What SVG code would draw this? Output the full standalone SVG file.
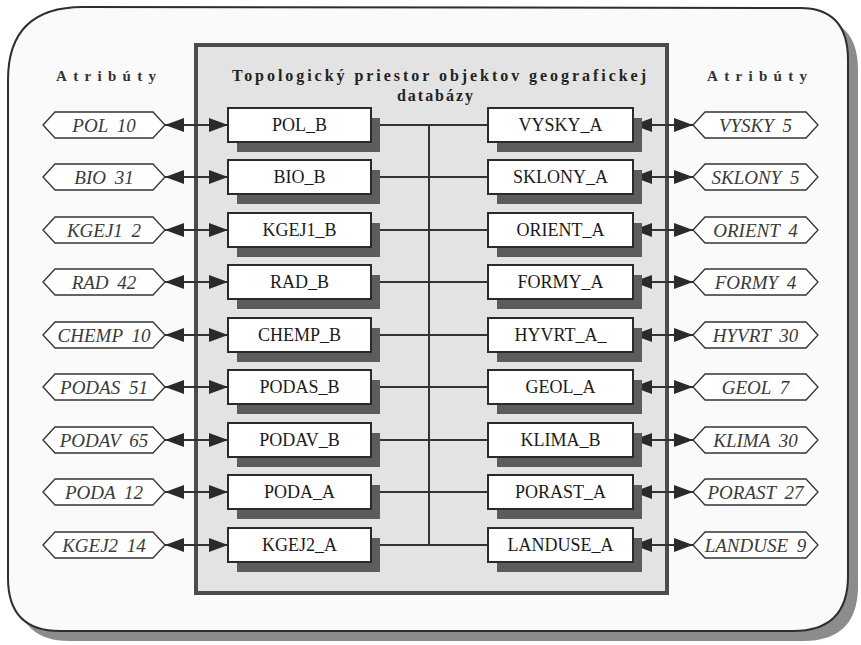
<svg xmlns="http://www.w3.org/2000/svg" width="861" height="645" viewBox="0 0 861 645">
<style>
.frame{fill:#fafafa;stroke:#2e2e2e;stroke-width:2}
.fshadow{fill:#8c8c8c}
.panel{fill:#e3e3e3;stroke:#4c4c4c;stroke-width:4}
.box{fill:#ffffff;stroke:#2a2a2a;stroke-width:2}
.bsh{fill:#5c5c5c}
.hex{fill:#ffffff;stroke:#333;stroke-width:1.3}
.bt{font-family:"Liberation Serif",serif;font-size:18px;fill:#1a1a1a;text-anchor:middle}
.ht{font-family:"Liberation Serif",serif;font-style:italic;font-weight:normal;font-size:19px;fill:#3a3a3a;text-anchor:middle;word-spacing:4px}
.ttl{font-family:"Liberation Serif",serif;font-weight:bold;font-size:16px;fill:#222;text-anchor:middle}
.att{font-family:"Liberation Serif",serif;font-weight:bold;font-size:15px;fill:#333;text-anchor:middle}
.ln{stroke:#333;stroke-width:2;fill:none}
.ar{stroke:#333;stroke-width:2;fill:none;marker-start:url(#aL);marker-end:url(#aR)}
</style>
<defs>
<marker id="aR" markerUnits="userSpaceOnUse" markerWidth="20" markerHeight="16" refX="19" refY="8" orient="0"><path d="M0,1 L19,8 L0,15 z" fill="#2a2a2a"/></marker>
<marker id="aL" markerUnits="userSpaceOnUse" markerWidth="20" markerHeight="16" refX="1" refY="8" orient="0"><path d="M20,1 L1,8 L20,15 z" fill="#2a2a2a"/></marker>
</defs>
<rect width="861" height="645" fill="#ffffff"/>
<g id="frame">
<path class="fshadow" d="M17,90 Q17,17 92,17 L809,18 Q858,18 858,70 L858,586 Q858,641 803,641 L70,641 Q17,641 17,588 Z"/>
<path class="frame" d="M8,80 Q8,7 83,7 L800,8 Q848,8 848,60 L848,576 Q848,631 793,631 L60,631 Q8,631 8,578 Z"/>
</g>
<g id="panel">
<rect class="panel" x="196" y="45" width="471" height="548"/>
<text class="ttl" x="439" y="81" textLength="414" lengthAdjust="spacing">Topologický priestor objektov geografickej</text>
<text class="ttl" x="435" y="101" textLength="76" lengthAdjust="spacing">databázy</text>
</g>
<text class="att" x="106" y="81" textLength="100" lengthAdjust="spacing">Atribúty</text>
<text class="att" x="757" y="81" textLength="100" lengthAdjust="spacing">Atribúty</text>
<g id="connectors">
<path class="ln" d="M429,125 V545"/>
<path class="ln" d="M371,125 H488 M371,177 H488 M371,230 H488 M371,282 H488 M371,335 H488 M371,387 H488 M371,440 H488 M371,492 H488 M371,545 H488"/>
<path class="ar" d="M165,125 H228"/><path class="ar" d="M165,177 H228"/><path class="ar" d="M165,230 H228"/>
<path class="ar" d="M165,282 H228"/><path class="ar" d="M165,335 H228"/><path class="ar" d="M165,387 H228"/>
<path class="ar" d="M165,440 H228"/><path class="ar" d="M165,492 H228"/><path class="ar" d="M165,545 H228"/>
<path class="ar" d="M633,125 H693"/><path class="ar" d="M633,177 H693"/><path class="ar" d="M633,230 H693"/>
<path class="ar" d="M633,282 H693"/><path class="ar" d="M633,335 H693"/><path class="ar" d="M633,387 H693"/>
<path class="ar" d="M633,440 H693"/><path class="ar" d="M633,492 H693"/><path class="ar" d="M633,545 H693"/>
</g>
<g id="n-POL_B"><rect class="bsh" x="237" y="118" width="143" height="34"/><rect class="box" x="228" y="108" width="143" height="34"/><text class="bt" x="299.5" y="131">POL_B</text></g>
<g id="n-BIO_B"><rect class="bsh" x="237" y="170" width="143" height="34"/><rect class="box" x="228" y="160" width="143" height="34"/><text class="bt" x="299.5" y="183">BIO_B</text></g>
<g id="n-KGEJ1_B"><rect class="bsh" x="237" y="223" width="143" height="34"/><rect class="box" x="228" y="213" width="143" height="34"/><text class="bt" x="299.5" y="236">KGEJ1_B</text></g>
<g id="n-RAD_B"><rect class="bsh" x="237" y="275" width="143" height="34"/><rect class="box" x="228" y="265" width="143" height="34"/><text class="bt" x="299.5" y="288">RAD_B</text></g>
<g id="n-CHEMP_B"><rect class="bsh" x="237" y="328" width="143" height="34"/><rect class="box" x="228" y="318" width="143" height="34"/><text class="bt" x="299.5" y="341">CHEMP_B</text></g>
<g id="n-PODAS_B"><rect class="bsh" x="237" y="380" width="143" height="34"/><rect class="box" x="228" y="370" width="143" height="34"/><text class="bt" x="299.5" y="393">PODAS_B</text></g>
<g id="n-PODAV_B"><rect class="bsh" x="237" y="433" width="143" height="34"/><rect class="box" x="228" y="423" width="143" height="34"/><text class="bt" x="299.5" y="446">PODAV_B</text></g>
<g id="n-PODA_A"><rect class="bsh" x="237" y="485" width="143" height="34"/><rect class="box" x="228" y="475" width="143" height="34"/><text class="bt" x="299.5" y="498">PODA_A</text></g>
<g id="n-KGEJ2_A"><rect class="bsh" x="237" y="538" width="143" height="34"/><rect class="box" x="228" y="528" width="143" height="34"/><text class="bt" x="299.5" y="551">KGEJ2_A</text></g>
<g id="n-VYSKY_A"><rect class="bsh" x="497" y="118" width="145" height="34"/><rect class="box" x="488" y="108" width="145" height="34"/><text class="bt" x="560.5" y="131">VYSKY_A</text></g>
<g id="n-SKLONY_A"><rect class="bsh" x="497" y="170" width="145" height="34"/><rect class="box" x="488" y="160" width="145" height="34"/><text class="bt" x="560.5" y="183">SKLONY_A</text></g>
<g id="n-ORIENT_A"><rect class="bsh" x="497" y="223" width="145" height="34"/><rect class="box" x="488" y="213" width="145" height="34"/><text class="bt" x="560.5" y="236">ORIENT_A</text></g>
<g id="n-FORMY_A"><rect class="bsh" x="497" y="275" width="145" height="34"/><rect class="box" x="488" y="265" width="145" height="34"/><text class="bt" x="560.5" y="288">FORMY_A</text></g>
<g id="n-HYVRT_A"><rect class="bsh" x="497" y="328" width="145" height="34"/><rect class="box" x="488" y="318" width="145" height="34"/><text class="bt" x="560.5" y="341">HYVRT_A_</text></g>
<g id="n-GEOL_A"><rect class="bsh" x="497" y="380" width="145" height="34"/><rect class="box" x="488" y="370" width="145" height="34"/><text class="bt" x="560.5" y="393">GEOL_A</text></g>
<g id="n-KLIMA_B"><rect class="bsh" x="497" y="433" width="145" height="34"/><rect class="box" x="488" y="423" width="145" height="34"/><text class="bt" x="560.5" y="446">KLIMA_B</text></g>
<g id="n-PORAST_A"><rect class="bsh" x="497" y="485" width="145" height="34"/><rect class="box" x="488" y="475" width="145" height="34"/><text class="bt" x="560.5" y="498">PORAST_A</text></g>
<g id="n-LANDUSE_A"><rect class="bsh" x="497" y="538" width="145" height="34"/><rect class="box" x="488" y="528" width="145" height="34"/><text class="bt" x="560.5" y="551">LANDUSE_A</text></g>
<g id="a-POL"><path class="hex" d="M43,125 L55,112 H153 L165,125 L153,138 H55 Z"/><text class="ht" x="104" y="131.5">POL 10</text></g>
<g id="a-BIO"><path class="hex" d="M43,177 L55,164 H153 L165,177 L153,190 H55 Z"/><text class="ht" x="104" y="183.5">BIO 31</text></g>
<g id="a-KGEJ1"><path class="hex" d="M43,230 L55,217 H153 L165,230 L153,243 H55 Z"/><text class="ht" x="104" y="236.5">KGEJ1 2</text></g>
<g id="a-RAD"><path class="hex" d="M43,282 L55,269 H153 L165,282 L153,295 H55 Z"/><text class="ht" x="104" y="288.5">RAD 42</text></g>
<g id="a-CHEMP"><path class="hex" d="M43,335 L55,322 H153 L165,335 L153,348 H55 Z"/><text class="ht" x="104" y="341.5">CHEMP 10</text></g>
<g id="a-PODAS"><path class="hex" d="M43,387 L55,374 H153 L165,387 L153,400 H55 Z"/><text class="ht" x="104" y="393.5">PODAS 51</text></g>
<g id="a-PODAV"><path class="hex" d="M43,440 L55,427 H153 L165,440 L153,453 H55 Z"/><text class="ht" x="104" y="446.5">PODAV 65</text></g>
<g id="a-PODA"><path class="hex" d="M43,492 L55,479 H153 L165,492 L153,505 H55 Z"/><text class="ht" x="104" y="498.5">PODA 12</text></g>
<g id="a-KGEJ2"><path class="hex" d="M43,545 L55,532 H153 L165,545 L153,558 H55 Z"/><text class="ht" x="104" y="551.5">KGEJ2 14</text></g>
<g id="a-VYSKY"><path class="hex" d="M693,125 L705,112 H806 L818,125 L806,138 H705 Z"/><text class="ht" x="755.5" y="131.5">VYSKY 5</text></g>
<g id="a-SKLONY"><path class="hex" d="M693,177 L705,164 H806 L818,177 L806,190 H705 Z"/><text class="ht" x="755.5" y="183.5">SKLONY 5</text></g>
<g id="a-ORIENT"><path class="hex" d="M693,230 L705,217 H806 L818,230 L806,243 H705 Z"/><text class="ht" x="755.5" y="236.5">ORIENT 4</text></g>
<g id="a-FORMY"><path class="hex" d="M693,282 L705,269 H806 L818,282 L806,295 H705 Z"/><text class="ht" x="755.5" y="288.5">FORMY 4</text></g>
<g id="a-HYVRT"><path class="hex" d="M693,335 L705,322 H806 L818,335 L806,348 H705 Z"/><text class="ht" x="755.5" y="341.5">HYVRT 30</text></g>
<g id="a-GEOL"><path class="hex" d="M693,387 L705,374 H806 L818,387 L806,400 H705 Z"/><text class="ht" x="755.5" y="393.5">GEOL 7</text></g>
<g id="a-KLIMA"><path class="hex" d="M693,440 L705,427 H806 L818,440 L806,453 H705 Z"/><text class="ht" x="755.5" y="446.5">KLIMA 30</text></g>
<g id="a-PORAST"><path class="hex" d="M693,492 L705,479 H806 L818,492 L806,505 H705 Z"/><text class="ht" x="755.5" y="498.5">PORAST 27</text></g>
<g id="a-LANDUSE"><path class="hex" d="M693,545 L705,532 H806 L818,545 L806,558 H705 Z"/><text class="ht" x="755.5" y="551.5">LANDUSE 9</text></g>
</svg>
